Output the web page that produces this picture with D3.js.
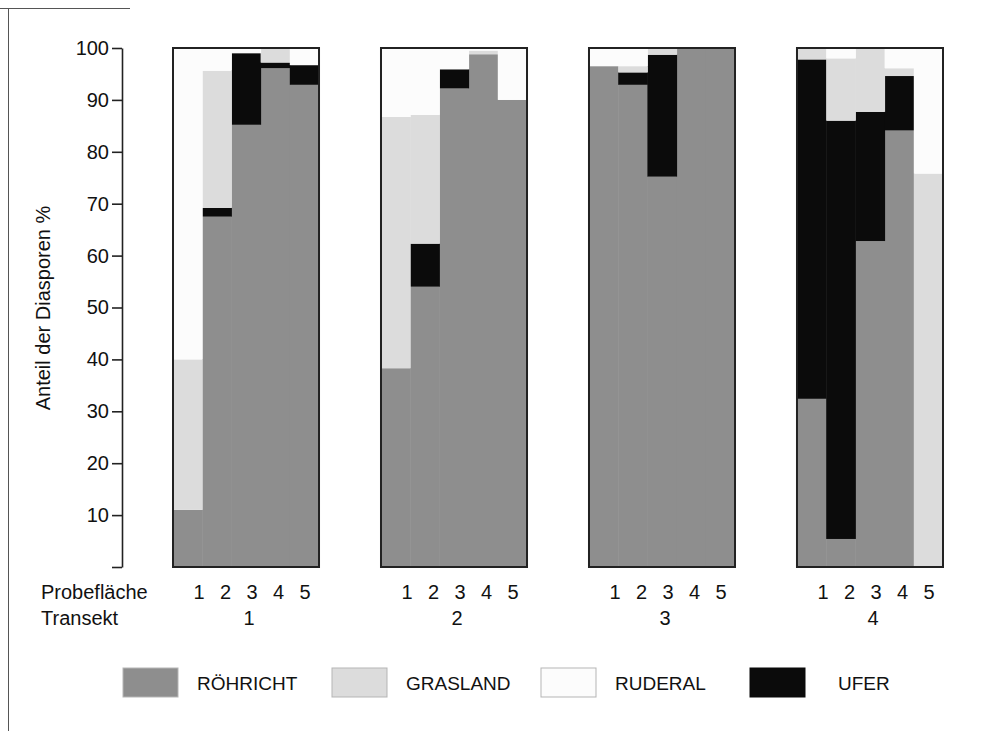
<!DOCTYPE html>
<html>
<head>
<meta charset="utf-8">
<script src="https://cdn.jsdelivr.net/npm/d3@7"></script>
<style>
  html, body { margin: 0; padding: 0; background: #ffffff; }
  svg { display: block; font-family: "Liberation Sans", Arial, Helvetica, sans-serif; }
</style>
</head>
<body>
<svg id="chart" width="1003" height="731"></svg>
<script>
// Transects and sample plots (Probeflächen) within each transect
const transects = ["1", "2", "3", "4"];
const plots = ["1", "2", "3", "4", "5"];

// Share of diaspores (%) per plot, ordered transect by transect (T1 P1..P5, T2 P1..P5, ...)
const roehricht = [11, 67.5, 85.2, 96.1, 92.9,
                   38.3, 54, 92.2, 98.8, 90,
                   96.5, 92.9, 75.2, 100, 100,
                   32.4, 5.4, 62.8, 84.1, 0];
const ufer      = [0, 1.7, 13.8, 1.1, 3.8,
                   0, 8.3, 3.7, 0, 0,
                   0, 2.4, 23.5, 0, 0,
                   65.4, 80.6, 24.9, 10.5, 0];
const grasland  = [29, 26.4, 0, 2.8, 0,
                   48.4, 24.8, 0, 0.7, 0,
                   0, 1.2, 1.3, 0, 0,
                   2.2, 12.0, 12.3, 1.5, 75.8];
const ruderal   = [60, 4.4, 1.0, 0, 3.3,
                   13.3, 12.9, 4.1, 0.5, 10,
                   3.5, 3.5, 0, 0, 0,
                   0, 2.0, 0, 3.9, 24.2];

// Axis ticks
const yTicks = [0, 10, 20, 30, 40, 50, 60, 70, 80, 90, 100];

// Legend entries
const legendNames = ["RÖHRICHT", "GRASLAND", "RUDERAL", "UFER"];
const legendKeys  = ["roehricht", "grasland", "ruderal", "ufer"];

// Fill per habitat type
const fills = {
  roehricht: "#8e8e8e",
  grasland: "#dcdcdc",
  ruderal: "#fcfcfc",
  ufer: "#0b0b0b"
};

const FONT = 20;

// Rows for the stack: one per plot
const rows = [];
transects.forEach((t, ti) => {
  plots.forEach((p, pi) => {
    const i = ti * plots.length + pi;
    rows.push({
      transekt: t, plot: p,
      roehricht: roehricht[i], ufer: ufer[i],
      grasland: grasland[i], ruderal: ruderal[i]
    });
  });
});

// Stacking order bottom to top
const stackKeys = ["roehricht", "ufer", "grasland", "ruderal"];
const series = d3.stack().keys(stackKeys)(rows);

const svg = d3.select("#chart");

// Scales
const y = d3.scaleLinear().domain([0, 100]).range([567, 48]);
const xT = d3.scaleBand().domain(transects).range([173, 943]).paddingInner(0.298).paddingOuter(0);
const xP = d3.scaleBand().domain(plots).range([0, xT.bandwidth()]).padding(0);
const xLabel = d3.scalePoint().domain(plots).range([26, 132]);

// Page frame lines
svg.append("line").attr("x1", 8.5).attr("x2", 8.5).attr("y1", 8).attr("y2", 731)
  .attr("stroke", "#555").attr("stroke-width", 1);
svg.append("line").attr("x1", 0).attr("x2", 130).attr("y1", 8.5).attr("y2", 8.5)
  .attr("stroke", "#555").attr("stroke-width", 1);

// Stacked columns
const layer = svg.append("g").selectAll("g")
  .data(series)
  .join("g")
  .attr("fill", d => fills[d.key]);

layer.selectAll("rect")
  .data(d => d.filter(s => s[1] - s[0] > 0))
  .join("rect")
  .attr("x", d => xT(d.data.transekt) + xP(d.data.plot))
  .attr("width", xP.bandwidth() + 0.5)
  .attr("y", d => y(d[1]))
  .attr("height", d => y(d[0]) - y(d[1]));

// Panel frames
svg.append("g").selectAll("rect")
  .data(transects)
  .join("rect")
  .attr("x", d => xT(d))
  .attr("y", y(100))
  .attr("width", xT.bandwidth())
  .attr("height", y(0) - y(100))
  .attr("fill", "none")
  .attr("stroke", "#222")
  .attr("stroke-width", 2);

// Y axis
const yAxis = d3.axisLeft(y)
  .tickValues(yTicks)
  .tickFormat(d => d === 0 ? "" : d)
  .tickSize(10)
  .tickSizeOuter(0)
  .tickPadding(3);

const gy = svg.append("g").attr("transform", "translate(122,0)").call(yAxis);
gy.select(".domain").attr("stroke", "#222").attr("stroke-width", 1.6);
gy.selectAll(".tick line").attr("stroke", "#222").attr("stroke-width", 1.6);
gy.selectAll(".tick text").attr("font-size", FONT).attr("fill", "#111")
  .attr("font-family", "Liberation Sans, Arial, sans-serif");

// Y axis title
svg.append("text")
  .attr("transform", "translate(50,308) rotate(-90)")
  .attr("text-anchor", "middle")
  .attr("font-size", FONT)
  .attr("fill", "#111")
  .text("Anteil der Diasporen %");

// Row titles
svg.append("text").attr("x", 41).attr("y", 599).attr("font-size", FONT).attr("fill", "#111").text("Probefläche");
svg.append("text").attr("x", 41).attr("y", 625).attr("font-size", FONT).attr("fill", "#111").text("Transekt");

// Plot numbers
const plotLabels = [];
transects.forEach(t => plots.forEach(p => plotLabels.push({ t, p })));
svg.append("g").selectAll("text")
  .data(plotLabels)
  .join("text")
  .attr("x", d => xT(d.t) + xLabel(d.p))
  .attr("y", 599)
  .attr("text-anchor", "middle")
  .attr("font-size", FONT)
  .attr("fill", "#111")
  .text(d => d.p);

// Transect numbers
svg.append("g").selectAll("text")
  .data(transects)
  .join("text")
  .attr("x", d => xT(d) + xT.bandwidth() / 2 + 3)
  .attr("y", 625)
  .attr("text-anchor", "middle")
  .attr("font-size", FONT)
  .attr("fill", "#111")
  .text(d => d);

// Legend
const xLeg = d3.scaleLinear().domain([0, 3]).range([123, 750]);
const leg = svg.append("g").selectAll("g")
  .data(legendNames.map((n, i) => ({ name: n, key: legendKeys[i], i })))
  .join("g")
  .attr("transform", d => `translate(${xLeg(d.i)},668)`);

leg.append("rect")
  .attr("width", 55)
  .attr("height", 29)
  .attr("fill", d => fills[d.key])
  .attr("stroke", d => d.key === "ufer" ? "#0b0b0b" : "#b5b5b5")
  .attr("stroke-width", 1);

leg.append("text")
  .attr("x", d => d.key === "ufer" ? 88 : 74)
  .attr("y", 22)
  .attr("font-size", 19)
  .attr("fill", "#111")
  .text(d => d.name);
</script>
</body>
</html>
